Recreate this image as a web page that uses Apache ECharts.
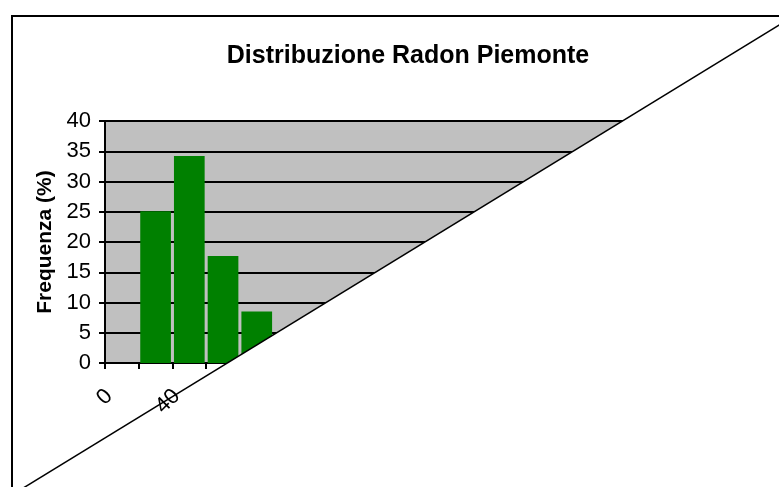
<!DOCTYPE html>
<html>
<head>
<meta charset="utf-8">
<script src="https://cdn.jsdelivr.net/npm/echarts@6/dist/echarts.min.js"></script>
<style>
  html, body { margin: 0; padding: 0; background: #fff; }
  #chart { width: 779px; height: 487px; }
</style>
</head>
<body>
<div id="chart"></div>
<script>
// bin labels (Bq/m3), every other one is printed
const categories = ['0', '20', '40', '60', '80', '100', '120', '140', '160', '180',
  '200', '220', '240', '260', '280', '300', '320', '340'];
// frequency (%) per bin
const frequenza = [0, 25.1, 34.2, 17.7, 8.5];
const yTicks = { min: 0, max: 40, interval: 5 };

const chart = echarts.init(document.getElementById('chart'));

const font = '"Liberation Sans", Arial, sans-serif';

const option = {
  animation: false,
  backgroundColor: '#fff',
  title: {
    text: 'Distribuzione Radon Piemonte',
    left: 403,
    top: 39,
    textAlign: 'center',
    textStyle: { fontFamily: font, fontSize: 25, fontWeight: 'bold', color: '#000' },
  },
  grid: {
    left: 105,
    top: 121,
    width: 607,
    height: 242,
    show: true,
    backgroundColor: '#c0c0c0',
    borderWidth: 0,
  },
  xAxis: [
    {
      type: 'category',
      data: categories,
      z: 0,
      axisLine: { lineStyle: { color: '#000', width: 2 } },
      axisTick: { show: true, length: 6, lineStyle: { color: '#000', width: 2 } },
      axisLabel: { show: false },
    },
    {
      // labels only, drawn above the white cut-out
      type: 'category',
      data: categories,
      position: 'bottom',
      z: 20,
      axisLine: { show: false },
      axisTick: { show: false },
      axisLabel: {
        rotate: 45,
        margin: 17,
        padding: [0, 18, 0, 0],
        fontFamily: font,
        fontSize: 22,
        color: '#000',
        interval: (i, v) => i % 2 === 0 && Number(v) <= 40,
      },
    },
  ],
  yAxis: {
    type: 'value',
    min: yTicks.min,
    max: yTicks.max,
    interval: yTicks.interval,
    name: 'Frequenza (%)',
    nameLocation: 'middle',
    nameGap: 48,
    nameTextStyle: { fontFamily: font, fontSize: 21, fontWeight: 'bold', color: '#000' },
    axisLine: { show: true, lineStyle: { color: '#000', width: 2 } },
    axisTick: { show: true, length: 6, lineStyle: { color: '#000', width: 2 } },
    axisLabel: { margin: 14, fontFamily: font, fontSize: 22, color: '#000' },
    splitLine: { show: true, lineStyle: { color: '#000', width: 2 } },
  },
  series: [
    {
      type: 'bar',
      xAxisIndex: 0,
      data: frequenza,
      barWidth: '91%',
      itemStyle: { color: '#008000' },
    },
  ],
  graphic: {
    elements: [
      {
        // white area below the diagonal
        type: 'polygon',
        z: 10,
        silent: true,
        shape: { points: [[20, 490], [784, 22], [784, 495], [20, 495]] },
        style: { fill: '#fff' },
      },
      {
        type: 'line',
        z: 11,
        silent: true,
        shape: { x1: 20, y1: 490, x2: 784, y2: 22 },
        style: { stroke: '#000', lineWidth: 1.5 },
      },
      {
        type: 'rect',
        z: 11,
        silent: true,
        shape: { x: 12, y: 16, width: 800, height: 500 },
        style: { fill: 'none', stroke: '#000', lineWidth: 2 },
      },
    ],
  },
};

chart.setOption(option);
</script>
</body>
</html>
